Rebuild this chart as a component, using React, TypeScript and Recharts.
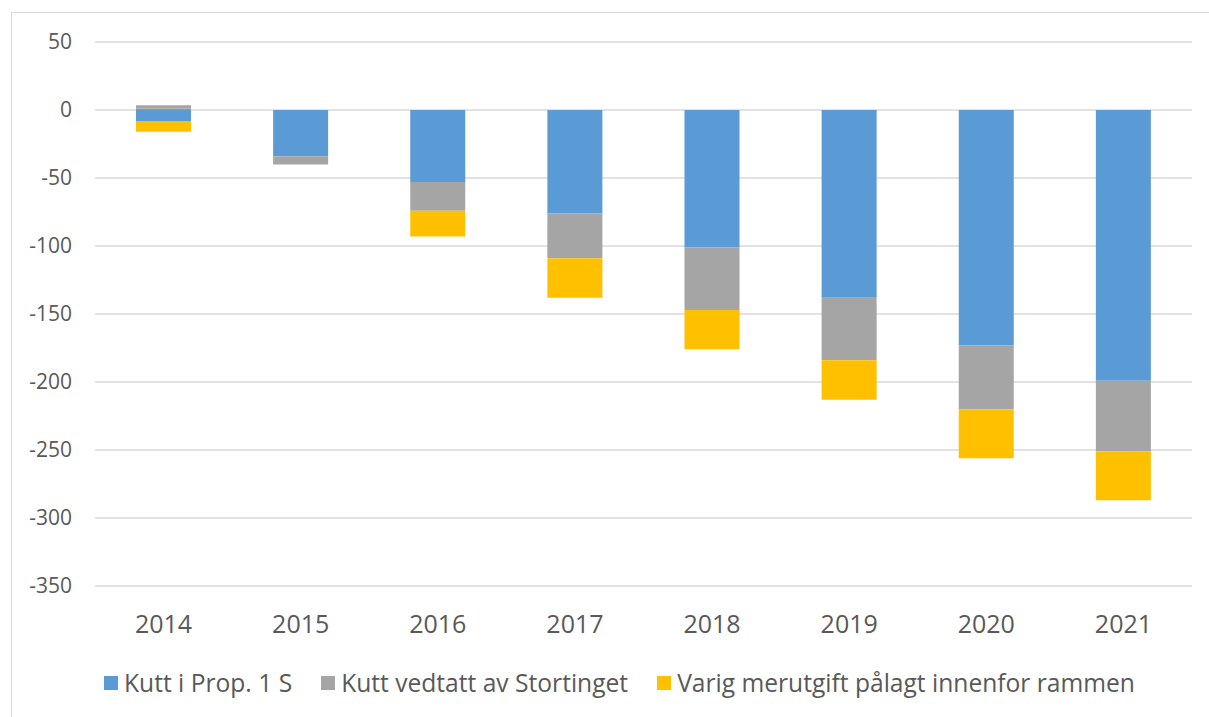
import React from 'react';
import { BarChart, Bar, XAxis, YAxis, CartesianGrid, Legend } from 'recharts';

const years = ['2014', '2015', '2016', '2017', '2018', '2019', '2020', '2021'];
const kuttProp = [-8, -34, -53, -76, -101, -138, -173, -199];
const ekstra = [1, 0, 0, 0, 0, 0, 0, 0];
const kuttVedtatt = [2.5, -6, -21, -33, -46, -46, -47, -52];
const varigMerutgift = [-8, 0, -19, -29, -29, -29, -36, -36];
const yTicks = [50, 0, -50, -100, -150, -200, -250, -300, -350];

const seriesNames = ['Kutt i Prop. 1 S', 'Kutt vedtatt av Stortinget', 'Varig merutgift pålagt innenfor rammen'];
const seriesColors = ['#5B9BD5', '#A5A5A5', '#FFC000'];

const data = years.map((y, i) => ({
  year: y,
  prop: kuttProp[i],
  ekstra: ekstra[i],
  vedtatt: kuttVedtatt[i],
  varig: varigMerutgift[i],
}));

const FONT = '"Open Sans", sans-serif';

const LegendContent = () => (
  <div style={{ display: 'flex', alignItems: 'center', height: 32, paddingLeft: 104, fontFamily: FONT, fontSize: 24.6, color: '#595959' }}>
    {seriesNames.map((n, i) => (
      <div key={n} style={{ display: 'flex', alignItems: 'center', marginRight: 29 }}>
        <div style={{ width: 14, height: 14, background: seriesColors[i], marginRight: 6 }} />
        <span style={{ whiteSpace: 'nowrap', lineHeight: '32px' }}>{n}</span>
      </div>
    ))}
  </div>
);

export default function App() {
  return (
    <div style={{ position: 'absolute', left: 0, top: 0, width: 1209, height: 717, overflow: 'hidden', background: '#fff' }}>
      <div style={{ position: 'absolute', left: 11, top: 12, width: 1400, height: 900, border: '1.5px solid #d9d9d9', boxSizing: 'border-box' }} />
      <BarChart
        width={1209}
        height={717}
        data={data}
        stackOffset="sign"
        margin={{ top: 42, right: 17, left: 15, bottom: 0 }}
        style={{ position: 'absolute', left: 0, top: 0 }}
      >
        <CartesianGrid vertical={false} stroke="#d9d9d9" strokeWidth={1.5} />
        <XAxis
          dataKey="year"
          axisLine={false}
          tickLine={false}
          height={81}
          tickMargin={23}
          tick={{ fill: '#595959', fontSize: 25, fontFamily: FONT }}
        />
        <YAxis
          domain={[-350, 50]}
          ticks={yTicks}
          axisLine={false}
          tickLine={false}
          width={80}
          tickMargin={17}
          interval={0}
          tick={{ fill: '#595959', fontSize: 21, fontFamily: FONT }}
        />
        <Legend verticalAlign="bottom" content={<LegendContent />} wrapperStyle={{ height: 50, left: 0, width: 1209 }} />
        <Bar dataKey="prop" stackId="a" fill="#5B9BD5" barSize={55} isAnimationActive={false} />
        <Bar dataKey="ekstra" stackId="a" fill="#ED7D31" barSize={55} isAnimationActive={false} />
        <Bar dataKey="vedtatt" stackId="a" fill="#A5A5A5" barSize={55} isAnimationActive={false} />
        <Bar dataKey="varig" stackId="a" fill="#FFC000" barSize={55} isAnimationActive={false} />
      </BarChart>
    </div>
  );
}
